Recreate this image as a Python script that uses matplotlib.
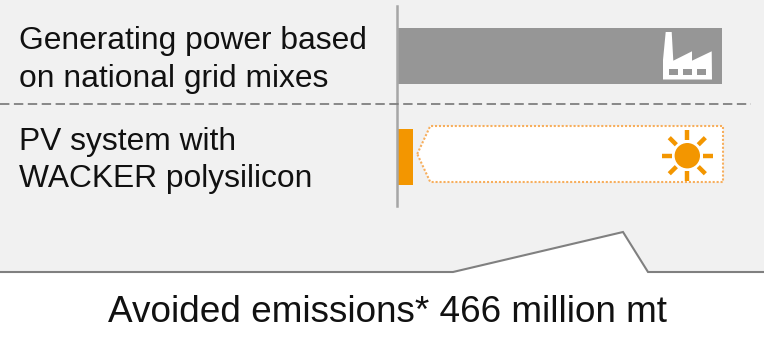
import numpy as np
import matplotlib
matplotlib.use("Agg")
import matplotlib.pyplot as plt
from matplotlib.patches import Polygon, Rectangle, Circle

plt.rcParams['font.family'] = ['Liberation Sans', 'DejaVu Sans']

# values in million mt, the scenario totals are estimated from the bar lengths
labels = ['Generating power based\non national grid mixes', 'PV system with\nWACKER polysilicon']
emissions = [489, 23]
bar_colors = ['#969696', '#f39600']
avoided_text = 'Avoided emissions* 466 million mt'

W, H = 764, 342
BG = '#f1f1f1'
LINE = '#808080'
ORANGE = '#f39600'

fig = plt.figure(figsize=(W / 100, H / 100), dpi=100, facecolor=BG)

# pixel canvas for the decoration
ax = fig.add_axes([0, 0, 1, 1])
ax.set_xlim(0, W)
ax.set_ylim(H, 0)
ax.axis('off')

# white callout at the bottom
callout = [(0, 272), (453, 272), (623, 232), (648, 272), (W, 272)]
ax.add_patch(Polygon(callout + [(W, H), (0, H)], closed=True, fc='white', ec='none', zorder=1))
ax.plot(*zip(*callout), color=LINE, lw=1.5, zorder=2, solid_joinstyle='miter')
ax.text(388, 313, avoided_text, fontsize=26.6, color='#111111', ha='center', va='center', zorder=3)

# row labels
ax.text(19, 60, labels[0], fontsize=22.9, color='#111111', va='center', linespacing=1.34, zorder=3)
ax.text(19, 160.5, labels[1], fontsize=22.9, color='#111111', va='center', linespacing=1.34, zorder=3)

# row separator
ax.plot([0, 751], [104, 104], color=LINE, lw=1.3, dashes=(5.2, 2.5), zorder=2)

# bars get their own axes so the lengths come from the values
bar_ax = fig.add_axes([398 / W, 1 - 206 / H, 324 / W, 200 / H])
bar_ax.patch.set_alpha(0)
bar_ax.set_xlim(0, emissions[0])
bar_ax.set_ylim(200, 0)
bar_ax.axis('off')
y_rows = [50, 151]
bar_ax.barh(y_rows, emissions, height=56, color=bar_colors, zorder=3)
bar_ax.axvline(-1 * emissions[0] / 324, color='#a6a6a6', lw=1.8, zorder=4, clip_on=False)

# dotted arrow for the avoided part
px = emissions[0] / 324
x_pv = emissions[1]
x_end = emissions[0]
arrow = [(x_pv + 4 * px, 148), (x_pv + 17 * px, 120), (x_end + px, 120), (x_end + px, 176), (x_pv + 17 * px, 176)]
bar_ax.add_patch(Polygon(arrow, closed=True, fc='white', ec='#f7ae5c', lw=1.5, ls=(0, (1, 0.9)), zorder=2,
                         clip_on=False))

# factory icon
factory = [(663, 79.5), (663, 60), (665.7, 32), (671.7, 32), (673.3, 60.7), (692, 51.3), (692, 60.7),
           (711.7, 51.3), (712, 79.5)]
ax.add_patch(Polygon(factory, closed=True, fc='white', ec='none', zorder=5))
for wx in [669.3, 683.3, 697.3]:
    ax.add_patch(Rectangle((wx, 68.7), 8.2, 6.4, fc='#969696', ec='none', zorder=6))

# sun icon
sx, sy = 687.3, 155.7
ax.add_patch(Circle((sx, sy), 12.7, fc=ORANGE, ec='none', zorder=5))
for ang in np.arange(0, 360, 45):
    c, s = np.cos(np.radians(ang)), np.sin(np.radians(ang))
    ax.plot([sx + 15.5 * c, sx + 25.5 * c], [sy + 15.5 * s, sy + 25.5 * s], color=ORANGE, lw=3.2,
            solid_capstyle='butt', zorder=5)

ax.set_zorder(bar_ax.get_zorder() + 1)
ax.patch.set_alpha(0)

fig.savefig('out.png', dpi=100, facecolor=BG)
